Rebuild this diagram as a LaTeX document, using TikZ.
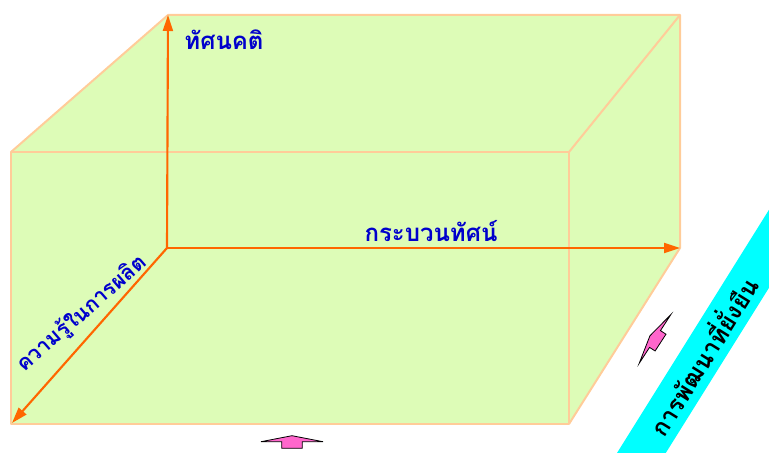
\documentclass[tikz,border=0pt]{standalone}
\usepackage{fontspec}
\newfontfamily\thaifont[Script=Thai]{Loma}
\usetikzlibrary{arrows.meta}

\definecolor{boxfill}{RGB}{221,252,183}
\definecolor{boxedge}{RGB}{255,204,153}
\definecolor{axisorange}{RGB}{255,102,0}
\definecolor{labelblue}{RGB}{0,0,204}
\definecolor{bandcyan}{RGB}{0,255,255}
\definecolor{arrowpink}{RGB}{255,102,204}

\tikzset{
  edge/.style={draw=boxedge, line width=1.5pt, line join=round},
  axis/.style={draw=axisorange, line width=1.6pt,
    -{Triangle[length=12pt,width=7.5pt]}},
  axislabel/.style={text=labelblue, inner sep=0pt,
    font=\thaifont\bfseries\fontsize{18}{18}\selectfont},
  bandbox/.style={fill=bandcyan, inner sep=0pt, minimum height=31pt,
    minimum width=600pt, font=\thaifont\bfseries\fontsize{18}{18}\selectfont},
  pinkarrow/.style={fill=arrowpink, draw=black, line width=0.6pt, line join=miter}
}

\begin{document}
\begin{tikzpicture}[x=0.75pt, y=-0.75pt]

\useasboundingbox (0,0) rectangle (769,453);
\clip (0,0) rectangle (769,453);

% corners of the box
\coordinate (FTL) at (11,152);
\coordinate (FTR) at (569,152);
\coordinate (FBR) at (569,424);
\coordinate (FBL) at (11,424);
\coordinate (BTL) at (168,15);
\coordinate (BTR) at (680,15);
\coordinate (BBR) at (680,248);
\coordinate (O) at (167,248);
\coordinate (Z) at (12,423);

\fill[boxfill] (FTL) -- (BTL) -- (BTR) -- (BBR) -- (FBR) -- (FBL) -- cycle;
\draw[edge] (FTL) rectangle (FBR);
\draw[edge] (FTL) -- (BTL) -- (BTR) -- (BBR) -- (FBR);
\draw[edge] (FTR) -- (BTR);

% axes
\draw[axis] (O) -- (BTL);
\draw[axis] (O) -- (BBR);
\draw[axis] (O) -- (Z);

\node[axislabel] (attitude) at (224,40) {ทัศนคติ};
\node[axislabel] (paradigm) at (431,231) {กระบวนทัศน์};
\node[axislabel, rotate=41, font=\thaifont\bfseries\fontsize{16}{16}\selectfont]
  (knowhow) at (82,314) {ความรู้ในการผลิต};

% band
\node[bandbox, rotate=58] (sustain) at (702,356) {การพัฒนาที่ยั่งยืน};

% pink arrows
\draw[pinkarrow, shift={(292,441.7)}]
  (-31,0) -- (0,-6) -- (31,0) -- (10.3,0) -- (10.3,6.6)
  -- (-10.3,6.6) -- (-10.3,0) -- cycle;
\draw[pinkarrow, shift={(655,339)}, rotate=57]
  (-29,0) -- (0,-6) -- (29,0) -- (10,0) -- (10,6.6)
  -- (-10,6.6) -- (-10,0) -- cycle;

\end{tikzpicture}
\end{document}
